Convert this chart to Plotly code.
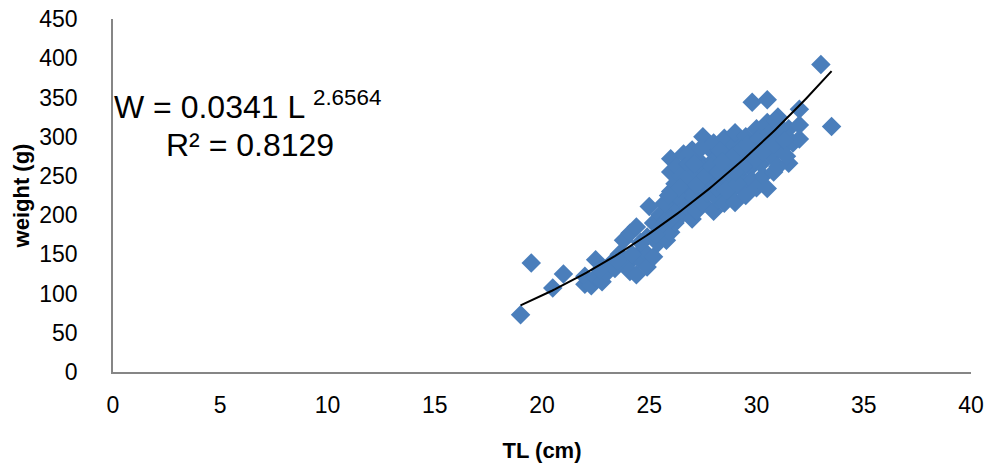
import numpy as np
import plotly.graph_objects as go

# Total length (cm) and weight (g)
TL = [19.0, 19.5, 20.5, 21.0,
      22.0, 22.0, 22.3, 22.5, 22.5, 22.8, 23.0, 23.2, 23.4, 23.6, 23.8, 24.0,
      24.1, 24.1, 24.4, 24.4, 24.5, 24.7, 24.9, 24.9, 25.0, 25.2, 25.2, 25.4,
      25.5, 25.6, 25.8, 25.8, 26.0, 26.0, 26.0, 26.0, 26.0, 26.2, 26.2, 26.3,
      26.5, 26.5, 26.5, 26.6, 26.8, 26.8, 26.8, 27.0, 27.0, 27.0, 27.0, 27.2,
      27.3, 27.5, 27.5, 27.5, 27.5, 27.7, 27.8, 28.0, 28.0, 28.0, 28.0, 28.2,
      28.3, 28.5, 28.5, 28.5, 28.5, 28.7, 28.8, 29.0, 29.0, 29.0, 29.0, 29.2,
      29.3, 29.5, 29.5, 29.5, 29.7, 29.8, 29.8, 30.0, 30.0, 30.0, 30.2, 30.3,
      30.5, 30.5, 30.5, 30.5, 30.7, 30.8, 31.0, 31.0, 31.0, 31.2, 31.5, 31.5,
      31.7, 32.0, 32.0, 32.0, 33.0, 33.5,
      25.5, 25.7, 26.0, 26.3, 26.7, 26.9, 27.2, 27.4, 27.6, 27.9, 28.1, 28.3,
      28.6, 28.9, 29.1, 29.3, 29.6, 29.9, 30.1, 30.3, 30.6, 30.8, 31.1, 31.3,
      31.4, 29.4, 28.2, 27.1, 26.4, 25.9, 24.6, 24.2, 23.5, 22.7, 25.3, 30.9,
      29.0, 28.4]
W = [73, 139, 107, 125,
     112, 122, 110, 121, 143, 115, 126, 138, 132, 150, 168, 138,
     128, 177, 124, 185, 145, 156, 134, 172, 211, 147, 190, 164,
     200, 180, 168, 194, 178, 210, 230, 255, 272, 190, 240, 262,
     200, 220, 250, 278, 210, 235, 265, 195, 225, 250, 283, 205,
     270, 215, 240, 260, 300, 228, 285, 205, 250, 270, 292, 220,
     238, 215, 260, 280, 298, 245, 230, 216, 265, 290, 305, 250,
     235, 225, 275, 300, 260, 244, 344, 235, 285, 310, 265, 250,
     234, 295, 318, 347, 275, 255, 262, 300, 325, 285, 266, 310,
     292, 297, 315, 335, 392, 313,
     185, 215, 195, 225, 245, 280, 238, 285, 250, 262, 235, 282,
     232, 275, 240, 285, 290, 270, 298, 280, 305, 290, 312, 295,
     275, 262, 255, 265, 235, 225, 165, 150, 142, 130, 175, 320,
     255, 268]

# Power trendline reported on the chart: W = a * L^b
TREND_A = 0.0341
TREND_B = 2.6564
TREND_RANGE = [19.0, 33.5]

X_TICKS = [0, 5, 10, 15, 20, 25, 30, 35, 40]
Y_TICKS = [0, 50, 100, 150, 200, 250, 300, 350, 400, 450]

trend_x = np.linspace(TREND_RANGE[0], TREND_RANGE[1], 100)
trend_y = TREND_A * trend_x ** TREND_B

fig = go.Figure()
fig.add_trace(go.Scatter(
    x=TL, y=W, mode="markers",
    marker=dict(symbol="diamond", size=15, color="#4A7EBB", line=dict(width=0)),
    showlegend=False, hoverinfo="x+y"))
fig.add_trace(go.Scatter(
    x=trend_x, y=trend_y, mode="lines",
    line=dict(color="black", width=2), showlegend=False, hoverinfo="skip"))

font_fam = "Liberation Sans, Arial, sans-serif"
fig.update_layout(
    width=987, height=466,
    margin=dict(l=113, r=16, t=19, b=94),
    paper_bgcolor="white", plot_bgcolor="white",
    font=dict(family=font_fam, color="black", size=23),
    xaxis=dict(range=[0, 40], tickvals=X_TICKS, showgrid=False, zeroline=False,
               showline=True, linecolor="#868686", linewidth=1.5, ticks="",
               ticklabelstandoff=12, tickfont=dict(size=23), automargin=False,
               ticklabeloverflow="allow",
               title=dict(text="<b>TL (cm)</b>", font=dict(size=22), standoff=25)),
    yaxis=dict(range=[0, 450], tickvals=Y_TICKS, showgrid=False, zeroline=False,
               showline=True, linecolor="#868686", linewidth=1.5, ticks="",
               ticklabelstandoff=29, tickfont=dict(size=23), automargin=False,
               ticklabeloverflow="allow",
               title=dict(text="<b>weight (g)</b>", font=dict(size=22), standoff=4)),
    annotations=[
        dict(xref="paper", yref="paper", x=0.157, y=0.7565,
             xanchor="center", yanchor="middle", showarrow=False,
             text="W = 0.0341 L <sup>2.6564</sup>",
             font=dict(size=32, family=font_fam, color="black")),
        dict(xref="paper", yref="paper", x=0.1597, y=0.643,
             xanchor="center", yanchor="middle", showarrow=False,
             text="R² = 0.8129",
             font=dict(size=32, family=font_fam, color="black")),
    ],
)

# remove the default 8px page margin so the figure sits at the window's origin
fig.write_html("out.html", config={"displayModeBar": False},
               post_script="document.body.style.margin='0';")
